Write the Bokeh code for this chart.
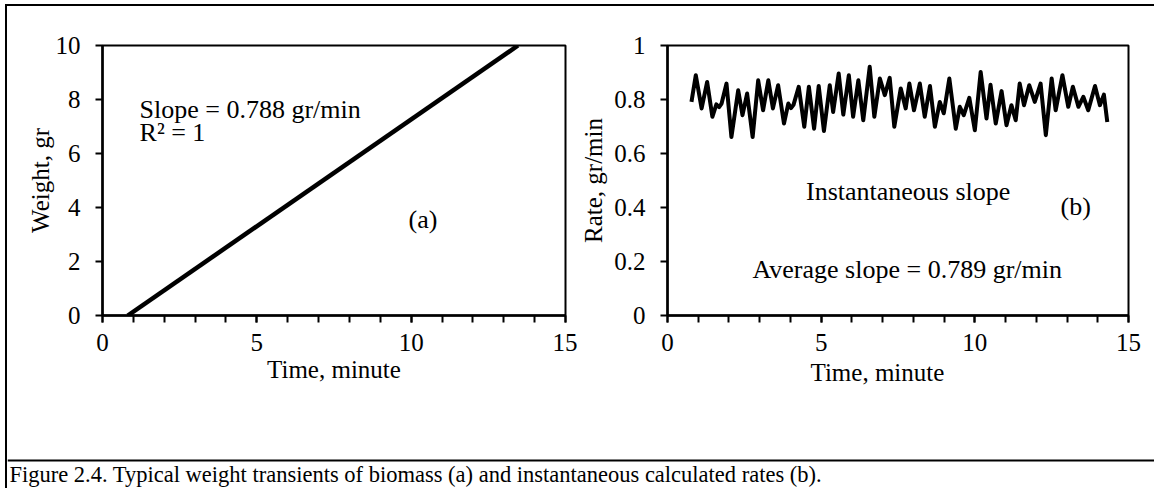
from bokeh.plotting import figure
from bokeh.models import Range1d, FixedTicker, Label, Spacer, Title, BoxAnnotation
from bokeh.layouts import column, row
from bokeh.embed import file_html
from bokeh.resources import INLINE

FONT = "Liberation Serif"

# ---- data ----
time_a = [0.82, 13.46]
weight_a = [0.0, 10.0]

time_b = [0.78, 0.92, 1.11, 1.29, 1.46, 1.59, 1.68, 1.76, 1.92, 2.08, 2.30, 2.44, 2.59, 2.77,
          2.95, 3.11, 3.28, 3.43, 3.60, 3.79, 3.93, 4.02, 4.10, 4.27, 4.45, 4.60, 4.77, 4.92,
          5.09, 5.28, 5.39, 5.57, 5.72, 5.90, 6.04, 6.21, 6.37, 6.58, 6.73, 6.91, 7.07, 7.23,
          7.38, 7.59, 7.75, 7.87, 8.02, 8.21, 8.37, 8.54, 8.70, 8.86, 8.99, 9.17, 9.38, 9.51,
          9.64, 9.82, 10.00, 10.19, 10.38, 10.51, 10.68, 10.87, 11.03, 11.19, 11.33, 11.46,
          11.60, 11.77, 11.95, 12.14, 12.31, 12.50, 12.63, 12.85, 13.04, 13.19, 13.37, 13.53,
          13.69, 13.91, 14.07, 14.20, 14.31]
rate_b = [0.791, 0.890, 0.767, 0.865, 0.736, 0.782, 0.772, 0.785, 0.859, 0.661, 0.834, 0.742,
          0.822, 0.661, 0.871, 0.760, 0.871, 0.767, 0.853, 0.711, 0.785, 0.768, 0.780, 0.847,
          0.699, 0.847, 0.692, 0.850, 0.683, 0.853, 0.754, 0.896, 0.744, 0.890, 0.736, 0.871,
          0.723, 0.921, 0.736, 0.878, 0.816, 0.880, 0.699, 0.841, 0.767, 0.859, 0.760, 0.859,
          0.736, 0.850, 0.699, 0.791, 0.749, 0.878, 0.692, 0.773, 0.742, 0.806, 0.686, 0.902,
          0.730, 0.855, 0.711, 0.831, 0.705, 0.779, 0.723, 0.859, 0.779, 0.853, 0.791, 0.859,
          0.668, 0.878, 0.760, 0.890, 0.773, 0.847, 0.773, 0.810, 0.760, 0.850, 0.779, 0.818,
          0.717]

x_ticks = [0, 5, 10, 15]
x_minor_ticks = list(range(16))
ya_ticks = [0, 2, 4, 6, 8, 10]
yb_ticks = [0, 0.2, 0.4, 0.6, 0.8, 1]
yb_labels = ["0", "0.2", "0.4", "0.6", "0.8", "1"]

x_title = "Time, minute"
ya_title = "Weight, gr"
yb_title = "Rate, gr/min"
caption = "Figure 2.4. Typical weight transients of biomass (a) and instantaneous calculated rates (b)."

TICK_PX = "25px"
TITLE_PX = "25px"
NOTE_PX = "26px"

ROW_H = 445      # height of the two-panel row
CAP_H = 37       # caption strip (includes the separator rule)


def style(p, yt, ylabels=None):
    p.xgrid.visible = False
    p.ygrid.visible = False
    p.outline_line_color = "black"
    p.outline_line_width = 2
    p.outline_line_alpha = 1
    p.background_fill_color = "white"
    p.border_fill_color = "white"
    p.xaxis.ticker = FixedTicker(ticks=x_ticks, minor_ticks=x_minor_ticks)
    p.yaxis.ticker = FixedTicker(ticks=yt)
    if ylabels:
        p.yaxis.major_label_overrides = dict(zip(yt, ylabels))
    for ax in (p.xaxis, p.yaxis):
        ax.axis_line_color = "black"
        ax.axis_line_width = 2.5
        ax.major_tick_line_color = "black"
        ax.major_tick_line_width = 2
        ax.minor_tick_line_color = "black"
        ax.minor_tick_line_width = 2
        ax.major_tick_in = 0
        ax.major_tick_out = 7
        ax.major_label_text_font = FONT
        ax.major_label_text_font_size = TICK_PX
        ax.major_label_text_color = "black"
        ax.axis_label_text_font = FONT
        ax.axis_label_text_font_size = TITLE_PX
        ax.axis_label_text_font_style = "normal"
        ax.axis_label_text_color = "black"
    p.xaxis.minor_tick_in = 0
    p.xaxis.minor_tick_out = 7
    p.yaxis.minor_tick_in = 0
    p.yaxis.minor_tick_out = 0
    p.xaxis.major_label_standoff = 11
    p.xaxis.axis_label_standoff = 2
    p.yaxis.major_label_standoff = 15


def note(p, x, y, text, align="left"):
    p.add_layout(Label(x=x, y=y, text=text, text_font=FONT, text_font_size=NOTE_PX,
                       text_color="black", text_align=align, text_baseline="middle"))


# ---- panel (a) ----
pa = figure(frame_width=463, frame_height=270,
            min_border_left=95, min_border_right=12, min_border_top=35,
            min_border_bottom=ROW_H - 35 - 270,
            x_range=Range1d(0, 15), y_range=Range1d(0, 10),
            output_backend="svg", toolbar_location=None)
style(pa, ya_ticks)
pa.xaxis.axis_label = x_title
pa.yaxis.axis_label = ya_title
pa.yaxis.axis_label_standoff = -1
pa.line(time_a, weight_a, line_color="black", line_width=4.5)
note(pa, 1.2, 7.63, "Slope = 0.788 gr/min")
note(pa, 1.2, 6.78, "R\u00b2 = 1")
note(pa, 10.38, 3.56, "(a)", "center")

# ---- panel (b) ----
pb = figure(frame_width=461, frame_height=270,
            min_border_left=89, min_border_right=27, min_border_top=39,
            min_border_bottom=ROW_H - 39 - 270,
            x_range=Range1d(0, 15), y_range=Range1d(0, 1),
            output_backend="svg", toolbar_location=None)
style(pb, yb_ticks, yb_labels)
pb.yaxis.axis_label = yb_title
pb.yaxis.axis_label_standoff = 4
pb.add_layout(Title(text=x_title, align="left", offset=143, standoff=6,
                    text_font=FONT, text_font_size=TITLE_PX, text_font_style="normal",
                    text_color="black"), "below")
pb.line(time_b, rate_b, line_color="black", line_width=4, line_join="round")
note(pb, 7.83, 0.458, "Instantaneous slope", "center")
note(pb, 13.28, 0.402, "(b)", "center")
note(pb, 7.8, 0.17, "Average slope = 0.789 gr/min", "center")

# ---- caption strip (separator rule at y = 459..461 of the page) ----
pc = figure(width=1147, height=CAP_H, min_border=0,
            x_range=Range1d(0, 1147), y_range=Range1d(0, CAP_H),
            x_axis_type=None, y_axis_type=None, output_backend="svg", toolbar_location=None)
pc.outline_line_color = None
pc.xgrid.visible = False
pc.ygrid.visible = False
pc.add_layout(BoxAnnotation(bottom=CAP_H - 10, top=CAP_H - 8, bottom_units="screen",
                            top_units="screen", fill_color="black", fill_alpha=1,
                            line_color=None))
pc.add_layout(Label(x=2, y=CAP_H - 10, x_units="screen", y_units="screen", text=caption,
                    text_font=FONT, text_font_size="22.5px", text_color="black",
                    text_baseline="top"))


def bar(w, h):
    return Spacer(width=w, height=h, margin=0, styles={"background-color": "black"})


layout = column(
    Spacer(width=1154, height=4, margin=0),
    row(Spacer(width=5, height=2, margin=0), bar(1149, 2)),
    row(Spacer(width=5, height=ROW_H, margin=0), bar(2, ROW_H), pa, pb),
    row(Spacer(width=5, height=CAP_H, margin=0), bar(2, CAP_H), pc),
)

open("out.html", "w").write(file_html(layout, INLINE))
